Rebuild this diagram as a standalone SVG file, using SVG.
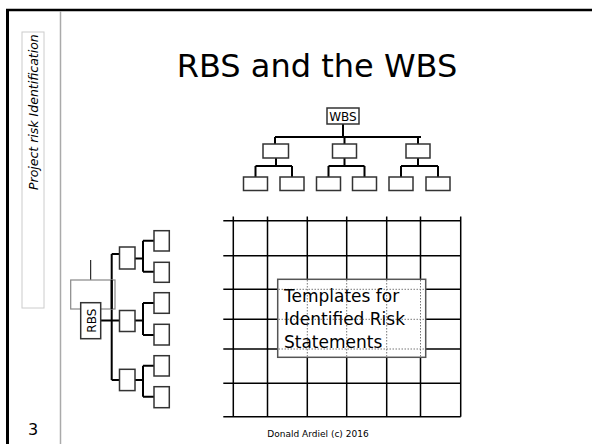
<svg xmlns="http://www.w3.org/2000/svg" width="592" height="444" viewBox="0 0 592 444">
<style>
text{font-family:"DejaVu Sans",Verdana,sans-serif;fill:#000}
.box{fill:#fff;stroke:#333;stroke-width:1.5}
.tree{fill:none;stroke:#000;stroke-width:2}
.grid{fill:none;stroke:#000;stroke-width:1.5}
.dot{fill:none;stroke:#777;stroke-width:1;stroke-dasharray:1.5 1.5}
</style>
<rect x="0" y="0" width="592" height="444" fill="#fff"/>
<g id="frame">
<line x1="6" y1="10" x2="592" y2="10" stroke="#000" stroke-width="2.5"/>
<line x1="7.5" y1="9" x2="7.5" y2="444" stroke="#000" stroke-width="3"/>
<line x1="60.5" y1="11" x2="60.5" y2="444" stroke="#aaa" stroke-width="1.5"/>
</g>
<g id="side-label">
<rect x="22" y="32" width="22" height="276" fill="none" stroke="#ccc" stroke-width="1"/>
<text transform="translate(37.5,190) rotate(-90)" font-size="12.5" font-style="italic">Project risk Identification</text>
</g>
<g id="page-number"><text x="33" y="435" font-size="16" text-anchor="middle">3</text></g>
<g id="title"><text x="317" y="76.5" font-size="32" text-anchor="middle">RBS and the WBS</text></g>
<g id="footer"><text x="318" y="437" font-size="9" text-anchor="middle">Donald Ardiel (c) 2016</text></g>

<g id="connectors">
<path class="tree" d="M343 124V137M275 137H421M275 137V144M344.5 137V144M418 137V144"/>
<path class="tree" d="M276 158V166M255.5 166H292M255.5 166V177M292 166V177"/>
<path class="tree" d="M344.5 158V166M328.5 166H364.5M328.5 166V177M364.5 166V177"/>
<path class="tree" d="M418 158V166M401 166H438M401 166V177M438 166V177"/>
<path class="tree" d="M100.7 320.5H119M111.7 254V380M111.7 254H119M111.7 380H119"/>
<path class="tree" d="M135 258.5H143M143 240.7V271.7M143 240.7H154M143 271.7H154"/>
<path class="tree" d="M135 320.5H143M143 303V335M143 303H154M143 335H154"/>
<path class="tree" d="M135 380H143M143 365.7V396.7M143 365.7H154M143 396.7H154"/>
<line x1="90.7" y1="260" x2="90.7" y2="280" stroke="#000" stroke-width="1"/>
</g>

<g id="wbs-tree">
<rect class="box" x="327" y="108" width="32" height="16"/>
<text x="343" y="121" font-size="12" text-anchor="middle">WBS</text>
<rect class="box" x="263" y="144" width="25.5" height="14"/>
<rect class="box" x="332.5" y="144" width="24" height="14"/>
<rect class="box" x="406" y="144" width="24" height="14"/>
<rect class="box" x="243.5" y="177" width="24" height="13.5"/>
<rect class="box" x="280" y="177" width="24" height="13.5"/>
<rect class="box" x="316.5" y="177" width="24" height="13.5"/>
<rect class="box" x="352.5" y="177" width="24" height="13.5"/>
<rect class="box" x="389" y="177" width="24" height="13.5"/>
<rect class="box" x="426" y="177" width="24" height="13.5"/>
</g>

<g id="rbs-tree">
<rect x="70.7" y="280" width="44.3" height="29" fill="none" stroke="#888" stroke-width="1.2"/>
<rect class="box" x="80.7" y="302.7" width="20" height="36"/>
<text transform="translate(96,320.7) rotate(-90)" font-size="12" text-anchor="middle">RBS</text>
<line x1="111.7" y1="280" x2="111.7" y2="309" stroke="#000" stroke-width="2"/>
<rect class="box" x="119.5" y="247" width="15.5" height="22"/>
<rect class="box" x="119.5" y="310.5" width="15.5" height="21"/>
<rect class="box" x="119.5" y="369.3" width="15.5" height="21.3"/>
<rect class="box" x="154" y="230.7" width="15.3" height="20.3"/>
<rect class="box" x="154" y="262.3" width="15.3" height="20"/>
<rect class="box" x="154" y="292.7" width="15.3" height="20.6"/>
<rect class="box" x="154" y="324.3" width="15.3" height="20.7"/>
<rect class="box" x="154" y="355.7" width="15.3" height="20.3"/>
<rect class="box" x="154" y="386.7" width="15.3" height="21"/>
</g>

<g id="grid">
<path class="grid" d="M233.3 216.5V416.7M267.5 216.5V416.7M307.3 216.5V416.7M346.7 216.5V416.7M386.7 216.5V416.7M420.5 216.5V416.7M460.7 216.5V416.7"/>
<path class="grid" d="M223.3 220.7H460.7M223.3 255.7H460.7M223.3 289.3H460.7M223.3 319.3H460.7M223.3 349H460.7M223.3 383.3H460.7M223.3 416.7H460.7"/>
</g>

<g id="templates">
<rect x="277.7" y="279.3" width="148" height="78" fill="#fff" stroke="#555" stroke-width="1.5"/>
<path class="dot" d="M307.3 280V357M346.7 280V357M386.7 280V357M420.5 280V357M278.5 289.3H425M278.5 319.3H425M278.5 349H425"/>
<text font-size="17"><tspan x="284" y="301.7">Templates for</tspan><tspan x="284" y="324.5">Identified Risk</tspan><tspan x="284" y="347.7">Statements</tspan></text>
</g>
</svg>
